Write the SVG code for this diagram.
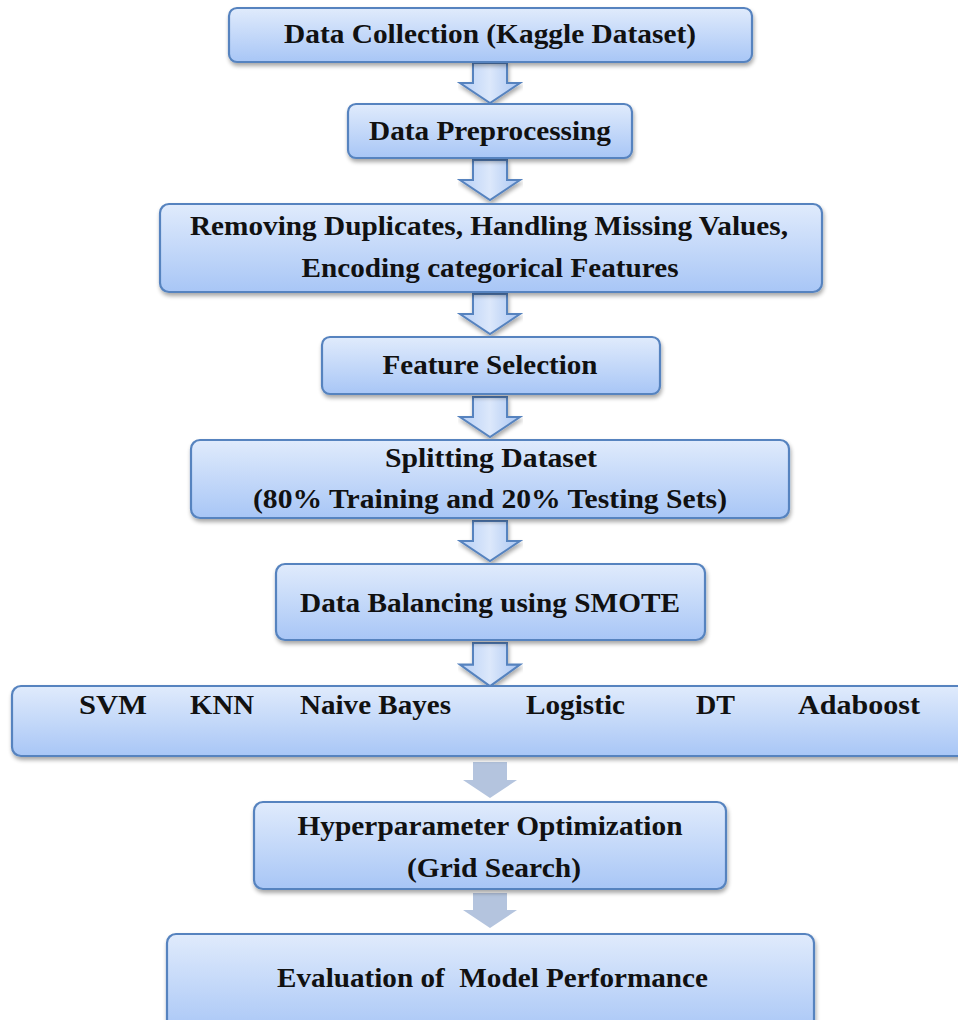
<svg xmlns="http://www.w3.org/2000/svg" width="958" height="1020" viewBox="0 0 958 1020">
<defs>
<linearGradient id="boxg" x1="0" y1="0" x2="0" y2="1">
<stop offset="0" stop-color="#e0ebfc"/>
<stop offset="1" stop-color="#a8c6f6"/>
</linearGradient>
<linearGradient id="arrg" x1="0" y1="0" x2="1" y2="0">
<stop offset="0" stop-color="#b8d0f6"/>
<stop offset="0.5" stop-color="#dce8fb"/>
<stop offset="1" stop-color="#a9c5f2"/>
</linearGradient>
<filter id="sh" x="-5%" y="-10%" width="110%" height="130%">
<feGaussianBlur in="SourceAlpha" stdDeviation="2"/>
<feOffset dx="1" dy="3" result="b"/>
<feComponentTransfer><feFuncA type="linear" slope="0.35"/></feComponentTransfer>
<feMerge><feMergeNode/><feMergeNode in="SourceGraphic"/></feMerge>
</filter>
<path id="arr" d="M-17,0 H17 V20 H30 L0,40 L-30,20 H-17 Z"/>
</defs>
<style>
.box{fill:url(#boxg);stroke:#5683bf;stroke-width:2.2;filter:url(#sh)}
.t{font-family:"Liberation Serif","Times New Roman",serif;font-weight:bold;font-size:27px;fill:#111}
.a{fill:url(#arrg);stroke:#5683bf;stroke-width:2;filter:url(#sh)}
.g{fill:#b4c4de}
</style>
<rect width="958" height="1020" fill="#ffffff"/>
<g id="connectors">
<use href="#arr" class="a" transform="translate(490,63)"/>
<use href="#arr" class="a" transform="translate(490,160)"/>
<use href="#arr" class="a" transform="translate(490,294)"/>
<use href="#arr" class="a" transform="translate(490,397)"/>
<use href="#arr" class="a" transform="translate(490,521)"/>
<use href="#arr" class="a" transform="translate(490,643) scale(1,1.08)"/>
<path class="g" d="M473,762 H507 V780 H517 L490,798 L463,780 H473 Z"/>
<path class="g" d="M473,893 H507 V910 H517 L490,928 L463,910 H473 Z"/>
</g>
<g id="n1">
<rect class="box" x="229" y="8" width="523" height="54" rx="8"/>
<text class="t" x="490" y="43" text-anchor="middle" textLength="412" lengthAdjust="spacingAndGlyphs">Data Collection (Kaggle Dataset)</text>
</g>
<g id="n2">
<rect class="box" x="348" y="104" width="284" height="54" rx="8"/>
<text class="t" x="490" y="140" text-anchor="middle" textLength="242" lengthAdjust="spacingAndGlyphs">Data Preprocessing</text>
</g>
<g id="n3">
<rect class="box" x="160" y="204" width="662" height="88" rx="9"/>
<text class="t" x="489" y="235" text-anchor="middle" textLength="598" lengthAdjust="spacingAndGlyphs">Removing Duplicates, Handling Missing Values,</text>
<text class="t" x="490" y="277" text-anchor="middle" textLength="377" lengthAdjust="spacingAndGlyphs">Encoding categorical Features</text>
</g>
<g id="n4">
<rect class="box" x="322" y="337" width="338" height="57" rx="8"/>
<text class="t" x="490" y="374" text-anchor="middle" textLength="215" lengthAdjust="spacingAndGlyphs">Feature Selection</text>
</g>
<g id="n5">
<rect class="box" x="191" y="440" width="598" height="78" rx="9"/>
<text class="t" x="491" y="467" text-anchor="middle" textLength="212" lengthAdjust="spacingAndGlyphs">Splitting Dataset</text>
<text class="t" x="490" y="508" text-anchor="middle" textLength="474" lengthAdjust="spacingAndGlyphs">(80% Training and 20% Testing Sets)</text>
</g>
<g id="n6">
<rect class="box" x="276" y="564" width="429" height="76" rx="9"/>
<text class="t" x="490" y="612" text-anchor="middle" textLength="380" lengthAdjust="spacingAndGlyphs">Data Balancing using SMOTE</text>
</g>
<g id="n7">
<rect class="box" x="12" y="686" width="960" height="70" rx="9"/>
<text class="t" x="79" y="714" textLength="68" lengthAdjust="spacingAndGlyphs">SVM</text>
<text class="t" x="190" y="714" textLength="64" lengthAdjust="spacingAndGlyphs">KNN</text>
<text class="t" x="300" y="714" textLength="151" lengthAdjust="spacingAndGlyphs">Naive Bayes</text>
<text class="t" x="526" y="714" textLength="99" lengthAdjust="spacingAndGlyphs">Logistic</text>
<text class="t" x="696" y="714" textLength="39" lengthAdjust="spacingAndGlyphs">DT</text>
<text class="t" x="798" y="714" textLength="122" lengthAdjust="spacingAndGlyphs">Adaboost</text>
</g>
<g id="n8">
<rect class="box" x="254" y="802" width="472" height="87" rx="9"/>
<text class="t" x="490" y="835" text-anchor="middle" textLength="385" lengthAdjust="spacingAndGlyphs">Hyperparameter Optimization</text>
<text class="t" x="494" y="877" text-anchor="middle" textLength="174" lengthAdjust="spacingAndGlyphs">(Grid Search)</text>
</g>
<g id="n9">
<rect class="box" x="167" y="934" width="647" height="100" rx="9"/>
<text class="t" x="277" y="987" textLength="431" lengthAdjust="spacingAndGlyphs" style="white-space:pre">Evaluation of  Model Performance</text>
</g>
</svg>
